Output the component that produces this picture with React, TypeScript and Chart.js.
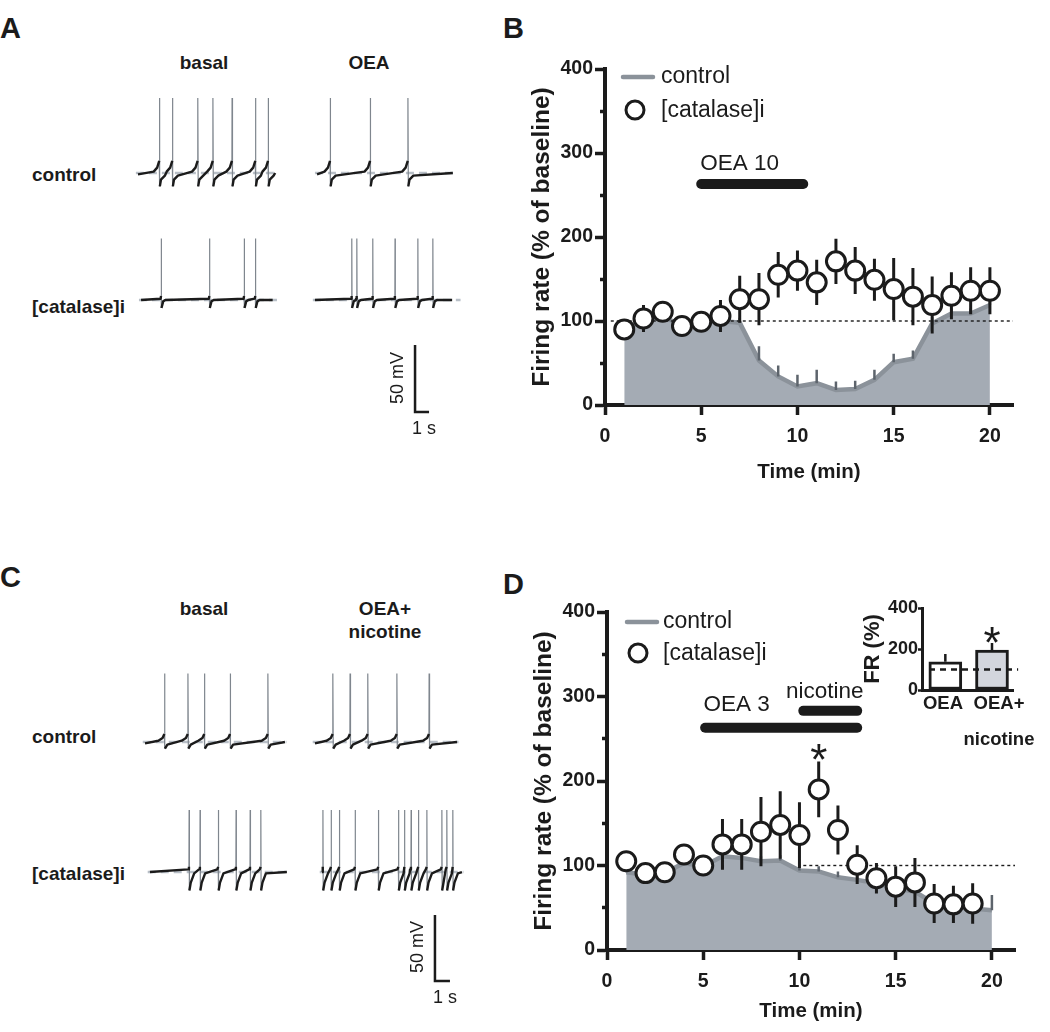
import React, { useEffect, useRef } from "react";
import { Chart, registerables } from "chart.js";
Chart.register(...registerables);

const FONT = '"Liberation Sans", Arial, Helvetica, sans-serif';
const INK = "#1b1b1b";
const FILL_GRAY = "#a4abb4";
const LINE_GRAY = "#8b929a";
const WHISKER_GRAY = "#5d646c";
const SPIKE_GRAY = "#7f868e";
const BASE_GRAY = "#b8bfc7";
const BAR2_FILL = "#d3d6dd";

// ---------------- Panel B data ----------------
const timeB = [1, 2, 3, 4, 5, 6, 7, 8, 9, 10, 11, 12, 13, 14, 15, 16, 17, 18, 19, 20];
const bControl = [90, 100, 105, 95, 100, 100, 98, 53, 34, 22, 26, 18, 19, 30, 51, 55, 97, 109, 109, 119];
const bControlErr = [5, 6, 6, 8, 5, 5, 6, 17, 13, 14, 16, 10, 10, 12, 10, 10, 8, 6, 6, 6];
const bCatalase = [90, 103, 111, 94, 99, 106, 126, 126, 155, 160, 146, 171, 160, 149, 138, 129, 119, 130, 136, 136];
const bCatalaseErr = [6, 16, 10, 10, 8, 19, 28, 31, 27, 24, 27, 27, 28, 25, 37, 34, 34, 28, 28, 28];
const bOeaBar = [5, 10.3];
const bOeaLevel = 263;
const bBaselineSpan = [0.3, 21.2];

// ---------------- Panel D data ----------------
const timeD = [1, 2, 3, 4, 5, 6, 7, 8, 9, 10, 11, 12, 13, 14, 15, 16, 17, 18, 19, 20];
const dControl = [92, 89, 91, 103, 99, 111, 109, 105, 106, 94, 93, 86, 83, 79, 73, 69, 55, 51, 49, 47];
const dControlErr = [5, 5, 5, 6, 5, 6, 6, 6, 6, 7, 6, 7, 6, 6, 6, 6, 6, 6, 6, 18];
const timeDCat = [1, 2, 3, 4, 5, 6, 7, 8, 9, 10, 11, 12, 13, 14, 15, 16, 17, 18, 19];
const dCatalase = [105, 91, 92, 113, 100, 125, 125, 140, 148, 136, 190, 142, 101, 85, 75, 80, 55, 54, 55];
const dCatalaseErr = [5, 5, 6, 8, 6, 30, 30, 41, 40, 39, 33, 29, 23, 18, 24, 29, 23, 22, 24];
const dOeaBar = [5.1, 13.0];
const dOeaLevel = 263;
const dNicBar = [10.2, 13.0];
const dNicLevel = 283;
const dStar = [11, 237];
const dBaselineSpan = [10.2, 21.2];

// ---------------- Inset (panel D) ----------------
const insetGroups: any[] = ["OEA", ["OEA+", "nicotine"]];
const insetValues = [138, 195];
const insetErr = [38, 34];
const insetStar = [2, 278];

// ---------------- Axis ticks ----------------
const xTickValues = [0, 5, 10, 15, 20];
const yMajorTicks = [0, 100, 200, 300, 400];
const yMinorTicks = [50, 150, 250, 350];
const insetYTicks = [0, 100, 200, 300, 400];

// ---------------- Traces (spike times in s from trace start; amplitude in mV) ----------------
const aControlBasalSpikes = [1.52, 2.45, 4.26, 5.34, 6.71, 8.38, 9.29];
const aControlOeaSpikes = [0.93, 3.79, 6.48];
const aCatBasalSpikes = [1.43, 4.88, 7.36, 8.16];
const aCatOeaSpikes = [2.62, 2.98, 4.12, 5.71, 7.34, 8.41];
const aTraceLengths = [9.8, 9.7, 9.4, 9.8];
const aAmplitudes = [56, 56, 46, 46];

const cControlBasalSpikes = [1.29, 2.85, 3.95, 5.67, 8.18];
const cControlOeaNicSpikes = [1.18, 2.33, 3.51, 5.45, 7.6];
const cCatBasalSpikes = [2.6, 3.33, 4.55, 5.73, 6.67, 7.38];
const cCatOeaNicSpikes = [0.05, 0.6, 1.15, 2.2, 3.75, 5.09, 5.49, 5.93, 6.42, 6.98, 7.98, 8.31, 8.71];
const cTraceLengths = [9.33, 9.47, 9.13, 9.33];
const cAmplitudes = [52, 52, 47, 47];

const scaleBarMv = 50;
const scaleBarS = 1;

// ---------------- layout of the trace panels (positions only) ----------------
const A_LAYOUT = { xMax: 340 / 14, yMin: -360 / 1.34, rowBase: [-69.4, -164.2], starts: [0.57, 13.36, 0.79, 13.21], bar: [20.36, -247.8] };
const C_LAYOUT = { xMax: 340 / 15, yMin: -360 / 1.32, rowBase: [-77.3, -175.8], starts: [1.0, 12.33, 1.33, 12.8], bar: [20.33, -258.3] };
// inset: where the category labels sit along the x axis (layout only)
const INSET_LABEL_POS = [0.95, 2.15];

// trace shape templates (style of the sketch)
const SHAPE_PACE_A = { rest: -1, pre: [[-0.4, 1], [-0.15, 4], [0, 9]], post: [[0.04, -10], [0.12, -5], [0.4, -2]], end: 0 };
const SHAPE_CAT_A = { rest: 0, pre: [[-0.04, 1], [0, 3]], post: [[0.03, -6], [0.15, -1], [0.3, 0]], end: 0 };
const SHAPE_PACE_C = { rest: -1, pre: [[-0.4, 1], [-0.12, 3], [0, 6]], post: [[0.04, -5], [0.2, -2]], end: 0 };
const SHAPE_CAT_C = { rest: 0, pre: [[-0.06, 2], [0, 4]], post: [[0.03, -14], [0.12, -8], [0.35, -1]], end: 0 };

function buildTrace(start: number, length: number, spikes: number[], amp: number, base: number, sh: any) {
  const black: any[] = [];
  const gray: any[] = [];
  const end = start + length;
  const abs = spikes.map((s) => start + s);
  let cursor = start;
  black.push({ x: start, y: base + sh.rest });
  abs.forEach((ts, i) => {
    for (const [dt, dv] of sh.pre) {
      const t = ts + dt;
      if (t > cursor + 0.01 || dt === 0) black.push({ x: t, y: base + dv });
    }
    const preV = sh.pre[sh.pre.length - 1][1];
    black.push({ x: ts + 0.001, y: null });
    const pf = sh.post[0];
    gray.push({ x: ts, y: base + preV }, { x: ts + 0.012, y: base + amp }, { x: ts + pf[0], y: base + pf[1] }, { x: ts + pf[0] + 0.001, y: null });
    const next = i + 1 < abs.length ? abs[i + 1] : end + 1;
    for (const [dt, dv] of sh.post) {
      const t = ts + dt;
      if (t < next - 0.03 && t <= end) {
        black.push({ x: t, y: base + dv });
        cursor = t;
      }
    }
  });
  black.push({ x: end, y: base + sh.end });
  return { black, gray, start, end, base };
}

function traceConfig(layout: any, specs: any[]) {
  const datasets: any[] = [];
  specs.forEach((s) => {
    const tr = buildTrace(s.start, s.length, s.spikes, s.amp, s.base, s.shape);
    datasets.push({ type: "line", data: [{ x: tr.start - 0.15, y: tr.base }, { x: tr.end + s.tail, y: tr.base }], borderColor: BASE_GRAY, borderWidth: 2.5, borderDash: [8, 5], pointRadius: 0, order: 3 });
    datasets.push({ type: "line", data: tr.gray, borderColor: SPIKE_GRAY, borderWidth: 1.2, pointRadius: 0, spanGaps: false, order: 2 });
    datasets.push({ type: "line", data: tr.black, borderColor: INK, borderWidth: 2.4, borderJoinStyle: "round", pointRadius: 0, spanGaps: false, order: 1 });
  });
  const [bx, by] = layout.bar;
  datasets.push({
    type: "line",
    data: [{ x: bx, y: by + scaleBarMv }, { x: bx, y: by }, { x: bx + scaleBarS, y: by }],
    borderColor: INK, borderWidth: 2.5, borderJoinStyle: "miter", pointRadius: 0, order: 0,
  });
  return {
    type: "line",
    data: { datasets },
    options: {
      animation: false, responsive: false, maintainAspectRatio: false, events: [],
      layout: { padding: 0 },
      plugins: { legend: { display: false }, tooltip: { enabled: false } },
      scales: {
        x: { type: "linear", min: 0, max: layout.xMax, display: false },
        y: { type: "linear", min: layout.yMin, max: 0, display: false },
      },
    },
  };
}

function makeTraceA() {
  const L = A_LAYOUT;
  return traceConfig(L, [
    { start: L.starts[0], length: aTraceLengths[0], spikes: aControlBasalSpikes, amp: aAmplitudes[0], base: L.rowBase[0], shape: SHAPE_PACE_A, tail: 0.1 },
    { start: L.starts[1], length: aTraceLengths[1], spikes: aControlOeaSpikes, amp: aAmplitudes[1], base: L.rowBase[0], shape: SHAPE_PACE_A, tail: 0.1 },
    { start: L.starts[2], length: aTraceLengths[2], spikes: aCatBasalSpikes, amp: aAmplitudes[2], base: L.rowBase[1], shape: SHAPE_CAT_A, tail: 0.6 },
    { start: L.starts[3], length: aTraceLengths[3], spikes: aCatOeaSpikes, amp: aAmplitudes[3], base: L.rowBase[1], shape: SHAPE_CAT_A, tail: 0.6 },
  ]);
}

function makeTraceC() {
  const L = C_LAYOUT;
  return traceConfig(L, [
    { start: L.starts[0], length: cTraceLengths[0], spikes: cControlBasalSpikes, amp: cAmplitudes[0], base: L.rowBase[0], shape: SHAPE_PACE_C, tail: 0.1 },
    { start: L.starts[1], length: cTraceLengths[1], spikes: cControlOeaNicSpikes, amp: cAmplitudes[1], base: L.rowBase[0], shape: SHAPE_PACE_C, tail: 0.1 },
    { start: L.starts[2], length: cTraceLengths[2], spikes: cCatBasalSpikes, amp: cAmplitudes[2], base: L.rowBase[1], shape: SHAPE_CAT_C, tail: 0.1 },
    { start: L.starts[3], length: cTraceLengths[3], spikes: cCatOeaNicSpikes, amp: cAmplitudes[3], base: L.rowBase[1], shape: SHAPE_CAT_C, tail: 0.1 },
  ]);
}

// ---------------- plugins ----------------
function textPlugin(id: string, items: any[]) {
  return {
    id,
    afterDatasetsDraw(chart: any) {
      const { ctx, scales } = chart;
      ctx.save();
      for (const it of items) {
        const px = scales.x.getPixelForValue(it.x);
        const py = scales.y.getPixelForValue(it.y);
        ctx.font = `${it.weight || "normal"} ${it.size}px ${FONT}`;
        ctx.fillStyle = INK;
        ctx.textAlign = "center";
        if (it.star) {
          ctx.textBaseline = "alphabetic";
          ctx.fillText(it.text, px, py + 0.57 * it.size);
        } else {
          ctx.textBaseline = "middle";
          ctx.fillText(it.text, px, py);
        }
      }
      ctx.restore();
    },
  };
}

function legendPlugin(off: any) {
  return {
    id: "figLegend",
    afterDraw(chart: any) {
      const { ctx, chartArea } = chart;
      const ds = chart.data.datasets;
      const ctrl = ds.find((d: any) => d.label === "control");
      const cat = ds.find((d: any) => d.label === "[catalase]i");
      const x0 = chartArea.left;
      const y0 = chartArea.top;
      ctx.save();
      ctx.strokeStyle = ctrl.borderColor;
      ctx.lineWidth = 4.5;
      ctx.lineCap = "round";
      ctx.beginPath();
      ctx.moveTo(x0 + off.l1, y0 + off.ly);
      ctx.lineTo(x0 + off.l2, y0 + off.ly);
      ctx.stroke();
      ctx.beginPath();
      ctx.arc(x0 + off.cx, y0 + off.cy, cat.pointRadius - 0.5, 0, Math.PI * 2);
      ctx.fillStyle = cat.pointBackgroundColor;
      ctx.fill();
      ctx.lineWidth = cat.pointBorderWidth;
      ctx.strokeStyle = cat.pointBorderColor;
      ctx.stroke();
      ctx.font = `23px ${FONT}`;
      ctx.fillStyle = INK;
      ctx.textAlign = "left";
      ctx.textBaseline = "middle";
      ctx.fillText("control", x0 + off.tx, y0 + off.ly);
      ctx.fillText("[catalase]i", x0 + off.tx, y0 + off.cy + 1);
      ctx.restore();
    },
  };
}

function errorSegments(times: number[], vals: number[], errs: number[], upOnly: boolean) {
  const pts: any[] = [];
  times.forEach((t, i) => {
    pts.push({ x: t, y: upOnly ? vals[i] : vals[i] - errs[i] }, { x: t, y: vals[i] + errs[i] }, { x: t, y: null });
  });
  return pts;
}

function mainConfig(p: any) {
  const datasets: any[] = [
    {
      type: "line", label: "[catalase]i",
      data: p.catTime.map((t: number, i: number) => ({ x: t, y: p.cat[i] })),
      showLine: false, pointRadius: 9.5, pointBorderWidth: 3, pointBackgroundColor: "#ffffff", pointBorderColor: INK, order: 0,
    },
    { type: "line", data: errorSegments(p.catTime, p.cat, p.catErr, false), borderColor: INK, borderWidth: 3, pointRadius: 0, spanGaps: false, order: 1 },
    { type: "line", data: errorSegments(p.time, p.ctrl, p.ctrlErr, true), borderColor: WHISKER_GRAY, borderWidth: 2.5, pointRadius: 0, spanGaps: false, order: 2 },
  ];
  p.bars.forEach((b: any) => {
    datasets.push({ type: "line", data: [{ x: b.span[0], y: b.level }, { x: b.span[1], y: b.level }], borderColor: INK, borderWidth: 10, borderCapStyle: "round", pointRadius: 0, order: 3 });
  });
  datasets.push({ type: "line", data: [{ x: p.dotted[0], y: 100 }, { x: p.dotted[1], y: 100 }], borderColor: INK, borderWidth: 1.4, borderDash: [3, 3], pointRadius: 0, order: 4 });
  datasets.push({
    type: "line", label: "control",
    data: p.time.map((t: number, i: number) => ({ x: t, y: p.ctrl[i] })),
    borderColor: LINE_GRAY, borderWidth: 4.5, backgroundColor: FILL_GRAY, fill: "origin", pointRadius: 0, tension: 0, order: 5,
  });
  const tickFont = { family: FONT, size: 19.5, weight: "bold" };
  return {
    type: "line",
    data: { datasets },
    options: {
      animation: false, responsive: false, maintainAspectRatio: false, events: [],
      layout: { padding: { left: 0, top: p.padTop, right: p.padRight, bottom: 0 } },
      plugins: { legend: { display: false }, tooltip: { enabled: false } },
      scales: {
        x: {
          type: "linear", min: 0, max: 21.2,
          afterBuildTicks: (s: any) => { s.ticks = xTickValues.map((v) => ({ value: v })); },
          afterFit: (s: any) => { s.height = p.xHeight; },
          border: { display: true, color: INK, width: 4 },
          grid: { display: true, drawOnChartArea: false, drawTicks: true, tickLength: 10, tickWidth: 3.5, tickColor: INK },
          ticks: { color: INK, font: tickFont, padding: 10, maxRotation: 0, autoSkip: false, callback: (v: any) => String(v) },
          title: { display: true, text: "Time (min)", color: INK, font: { family: FONT, size: 20.5, weight: "bold" }, padding: { top: 0, bottom: p.xTitlePad } },
        },
        y: {
          type: "linear", position: "left", min: 0, max: 400, weight: 1,
          afterBuildTicks: (s: any) => { s.ticks = yMajorTicks.map((v) => ({ value: v })); },
          afterFit: (s: any) => { s.width = p.yWidth; },
          border: { display: true, color: INK, width: 4 },
          grid: { display: true, drawOnChartArea: false, drawTicks: true, tickLength: 10, tickWidth: 3.5, tickColor: INK },
          ticks: { color: INK, font: tickFont, padding: 2, callback: (v: any) => String(v) },
          title: { display: true, text: "Firing rate (% of baseline)", color: INK, font: { family: FONT, size: 24.5, weight: "bold" }, padding: { top: p.yTitlePad, bottom: 0 } },
        },
        yMinor: {
          type: "linear", position: "left", min: 0, max: 400, weight: 0,
          afterBuildTicks: (s: any) => { s.ticks = yMinorTicks.map((v) => ({ value: v })); },
          afterFit: (s: any) => { s.width = 0; },
          border: { display: false },
          grid: { display: true, drawOnChartArea: false, drawTicks: true, tickLength: 5, tickWidth: 3.5, tickColor: INK },
          ticks: { display: false },
        },
      },
    },
    plugins: [textPlugin("figText", p.texts), legendPlugin(p.legend)],
  };
}

function makeB() {
  return mainConfig({
    time: timeB, ctrl: bControl, ctrlErr: bControlErr,
    catTime: timeB, cat: bCatalase, catErr: bCatalaseErr,
    bars: [{ span: bOeaBar, level: bOeaLevel }],
    dotted: bBaselineSpan,
    texts: [{ x: 7.0, y: 287, text: "OEA 10", size: 22.5 }],
    legend: { l1: 18, l2: 48, ly: 8, cx: 30, cy: 41, tx: 56 },
    padTop: 39, padRight: 27, xHeight: 85, yWidth: 105, xTitlePad: 5.6, yTitlePad: 28,
  });
}

function makeD() {
  return mainConfig({
    time: timeD, ctrl: dControl, ctrlErr: dControlErr,
    catTime: timeDCat, cat: dCatalase, catErr: dCatalaseErr,
    bars: [{ span: dOeaBar, level: dOeaLevel }, { span: dNicBar, level: dNicLevel }],
    dotted: dBaselineSpan,
    texts: [
      { x: 6.73, y: 290, text: "OEA 3", size: 22.5 },
      { x: 11.31, y: 306, text: "nicotine", size: 22.5 },
      { x: dStar[0], y: dStar[1], text: "*", size: 44, star: true },
    ],
    legend: { l1: 20, l2: 50, ly: 10, cx: 31, cy: 41, tx: 56 },
    padTop: 42, padRight: 25, xHeight: 80, yWidth: 107, xTitlePad: 6.6, yTitlePad: 30,
  });
}

function makeInset() {
  const tickFont = { family: FONT, size: 18, weight: "bold" };
  return {
    type: "bar",
    data: {
      datasets: [
        { type: "line", data: [{ x: 0.65, y: 100 }, { x: 2.56, y: 100 }], borderColor: INK, borderWidth: 2.5, borderDash: [6, 5], pointRadius: 0, clip: false, order: 0 },
        { type: "line", data: errorSegments([1, 2], insetValues, insetErr, true), borderColor: INK, borderWidth: 2.5, pointRadius: 0, spanGaps: false, order: 1 },
        {
          type: "bar", data: insetValues.map((v, i) => ({ x: i + 1, y: v })),
          backgroundColor: ["#ffffff", BAR2_FILL], borderColor: INK, borderWidth: 3, borderSkipped: false, barThickness: 33, order: 2,
        },
      ],
    },
    options: {
      animation: false, responsive: false, maintainAspectRatio: false, events: [],
      layout: { padding: { left: 0, top: 13, right: 27, bottom: 0 } },
      plugins: { legend: { display: false }, tooltip: { enabled: false } },
      scales: {
        x: {
          type: "linear", min: 0.5, max: 2.45, offset: false,
          afterBuildTicks: (s: any) => { s.ticks = INSET_LABEL_POS.map((v) => ({ value: v })); },
          afterFit: (s: any) => { s.height = 60; },
          border: { display: true, color: INK, width: 3 },
          grid: { display: false, offset: false },
          ticks: {
            color: INK, font: { family: FONT, size: 18.5, weight: "bold", lineHeight: 1.95 }, padding: -12.5, maxRotation: 0, autoSkip: false,
            callback: (v: any, i: number) => insetGroups[i],
          },
        },
        y: {
          type: "linear", min: 0, max: 400,
          afterBuildTicks: (s: any) => { s.ticks = insetYTicks.map((v) => ({ value: v })); },
          afterFit: (s: any) => { s.width = 62; },
          border: { display: true, color: INK, width: 3 },
          grid: { display: true, drawOnChartArea: false, drawTicks: true, tickLength: 4, tickWidth: 2.5, tickColor: INK },
          ticks: { color: INK, font: tickFont, padding: 0, callback: (v: any) => (v % 200 === 0 ? String(v) : "") },
          title: { display: true, text: "FR (%)", color: INK, font: { family: FONT, size: 22, weight: "bold" }, padding: { top: 0, bottom: 0 } },
        },
      },
    },
    plugins: [textPlugin("insetText", [{ x: insetStar[0], y: insetStar[1], text: "*", size: 44, star: true }])],
  };
}

// ---------------- components ----------------
function ChartBox({ left, top, width, height, make }: any) {
  const ref = useRef<HTMLCanvasElement>(null);
  useEffect(() => {
    const chart = new Chart(ref.current as HTMLCanvasElement, make());
    return () => chart.destroy();
  }, []);
  return <canvas ref={ref} width={width} height={height} style={{ position: "absolute", left, top, width, height, display: "block" }} />;
}

function Label({ x, y, text, size = 19, weight = "bold", anchor = "center", rotate = 0 }: any) {
  const tx = anchor === "center" ? "-50%" : "0";
  return (
    <div
      style={{
        position: "absolute", left: x, top: y,
        transform: `translate(${tx}, -50%) rotate(${rotate}deg)`,
        font: `${weight} ${size}px ${FONT}`, lineHeight: 1, whiteSpace: "nowrap", color: INK,
      }}
    >
      {text}
    </div>
  );
}

export default function App() {
  return (
    <div style={{ position: "absolute", left: 0, top: 0, width: 1050, height: 1032, background: "#ffffff", overflow: "hidden" }}>
      {/* panel letters */}
      <Label x={0} y={28} text="A" size={29} anchor="left" />
      <Label x={503} y={28} text="B" size={29} anchor="left" />
      <Label x={0} y={577} text="C" size={29} anchor="left" />
      <Label x={503} y={584} text="D" size={29} anchor="left" />

      {/* panel A */}
      <Label x={204} y={62} text="basal" />
      <Label x={369} y={62} text="OEA" />
      <Label x={32} y={174} text="control" anchor="left" />
      <Label x={32} y={306} text="[catalase]i" anchor="left" />
      <ChartBox left={130} top={80} width={340} height={360} make={makeTraceA} />
      <Label x={397} y={378} text="50 mV" size={18} weight="normal" rotate={-90} />
      <Label x={424} y={428} text="1 s" size={18} weight="normal" />

      {/* panel C */}
      <Label x={204} y={608} text="basal" />
      <Label x={385} y={608} text="OEA+" />
      <Label x={385} y={631} text="nicotine" />
      <Label x={32} y={736} text="control" anchor="left" />
      <Label x={32} y={873} text="[catalase]i" anchor="left" />
      <ChartBox left={130} top={640} width={340} height={360} make={makeTraceC} />
      <Label x={417} y={947} text="50 mV" size={18} weight="normal" rotate={-90} />
      <Label x={445} y={997} text="1 s" size={18} weight="normal" />

      {/* panel B and D */}
      <ChartBox left={500} top={30} width={540} height={460} make={makeB} />
      <ChartBox left={500} top={570} width={540} height={460} make={makeD} />
      <ChartBox left={860} top={595} width={180} height={155} make={makeInset} />
    </div>
  );
}
